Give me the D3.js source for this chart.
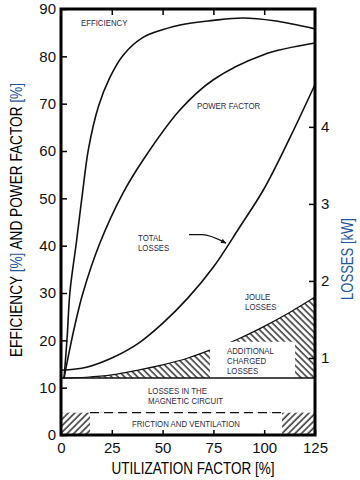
<!DOCTYPE html>
<html>
<head>
<meta charset="utf-8">
<script src="https://cdn.jsdelivr.net/npm/d3@7"></script>
<style>
  body { margin: 0; background: #fff; }
  svg { display: block; }
</style>
</head>
<body>
<div id="viz"></div>
<script>
// values
var effLoad = [1.5, 3, 4.4, 7.6, 10.4, 13.6, 18.5, 24, 30.5, 40.4, 58.6, 75, 89.6, 105, 125];
var effVal  = [12, 20.5, 30.2, 40.8, 50.5, 60.6, 69.5, 75.5, 80.2, 84.0, 86.6, 87.6, 88.1, 87.5, 85.8];

var pfLoad = [1.5, 4, 7, 10.8, 19.2, 30.5, 40.4, 58.6, 74.8, 99.4, 125];
var pfVal  = [12, 17.5, 23.5, 30, 40.6, 51.1, 58.1, 68.7, 75, 80.3, 82.8];

// losses in kW (right axis)
var lossLoad = [0, 12.5, 25, 37.5, 50, 62.5, 75, 87.5, 100, 112.5, 125];
var totalKW  = [0.84, 0.88, 1.00, 1.18, 1.45, 1.78, 2.18, 2.68, 3.20, 3.85, 4.55];
var strayTopKW = [0.74, 0.75, 0.78, 0.84, 0.91, 1.00, 1.12, 1.25, 1.41, 1.59, 1.79];
var ironKW = 0.74;      // losses in the magnetic circuit (top of band)
var frictionKW = 0.29;  // friction and ventilation

var xTicks = [0, 25, 50, 75, 100, 125];
var topTicks = [25, 50, 75, 100];
var leftTicks = [0, 10, 20, 30, 40, 50, 60, 70, 80, 90];
var rightTicks = [1, 2, 3, 4];

// white label boxes, [load from, load to, kW from, kW to]
var strayBox = [73.3, 115.2, 0.74, 1.21];
var frictionBox = [14.3, 108.8, 0, 0.29];

var arrowLoad = [63, 69.4, 81.2];
var arrowKW = [2.60, 2.60, 2.49];

var labels = [
  {t: "EFFICIENCY", x: 9.8, y: 86.4, axis: "L"},
  {t: "POWER FACTOR", x: 66.9, y: 68.9, axis: "L"},
  {t: "TOTAL", x: 37.9, y: 2.52, axis: "R"},
  {t: "LOSSES", x: 37.9, y: 2.39, axis: "R"},
  {t: "JOULE", x: 90.6, y: 1.75, axis: "R"},
  {t: "LOSSES", x: 90.6, y: 1.62, axis: "R"},
  {t: "ADDITIONAL", x: 81.7, y: 1.05, axis: "R"},
  {t: "CHARGED", x: 81.7, y: 0.92, axis: "R"},
  {t: "LOSSES", x: 81.7, y: 0.79, axis: "R"},
  {t: "LOSSES IN THE", x: 42.8, y: 0.53, axis: "R"},
  {t: "MAGNETIC CIRCUIT", x: 42.8, y: 0.40, axis: "R"},
  {t: "FRICTION AND VENTILATION", x: 34.9, y: 0.10, axis: "R"}
];

var margin = {top: 9, right: 45, bottom: 45, left: 61},
    width = 360 - margin.left - margin.right,
    height = 480 - margin.top - margin.bottom;

var x = d3.scaleLinear().domain([0, 125]).range([0, width]);
var yL = d3.scaleLinear().domain([0, 90]).range([height, 0]);
var yR = d3.scaleLinear().domain([0, 5.53]).range([height, 0]);

var svg = d3.select('#viz').append('svg')
    .attr("width", 360)
    .attr("height", 480)
    .style("font-family", "'Liberation Sans', Arial, sans-serif");

var defs = svg.append("defs");
defs.append("pattern")
    .attr("id", "hatchBack")
    .attr("patternUnits", "userSpaceOnUse")
    .attr("width", 4.6).attr("height", 4.6)
    .attr("patternTransform", "rotate(-45)")
  .append("line")
    .attr("x1", 1).attr("y1", 0).attr("x2", 1).attr("y2", 4.6)
    .attr("stroke", "#111").attr("stroke-width", 1.3);
defs.append("pattern")
    .attr("id", "hatchFwd")
    .attr("patternUnits", "userSpaceOnUse")
    .attr("width", 4.6).attr("height", 4.6)
    .attr("patternTransform", "rotate(45)")
  .append("line")
    .attr("x1", 1).attr("y1", 0).attr("x2", 1).attr("y2", 4.6)
    .attr("stroke", "#111").attr("stroke-width", 1.3);
defs.append("marker")
    .attr("id", "arrowHead")
    .attr("viewBox", "0 0 10 10")
    .attr("refX", 10).attr("refY", 5)
    .attr("markerWidth", 9).attr("markerHeight", 5)
    .attr("markerUnits", "userSpaceOnUse")
    .attr("orient", "auto")
  .append("path")
    .attr("d", "M0,0L10,5L0,10z")
    .attr("fill", "#111");

var g = svg.append("g")
    .attr("transform", "translate(" + margin.left + "," + margin.top + ")");

// friction band (hatched) with white label box
g.append("rect")
    .attr("x", x(0))
    .attr("y", yR(frictionKW))
    .attr("width", x(125) - x(0))
    .attr("height", yR(0) - yR(frictionKW))
    .attr("fill", "url(#hatchFwd)");

// additional losses band
var strayArea = d3.area()
    .x(function(d, i) { return x(lossLoad[i]); })
    .y0(yR(ironKW))
    .y1(function(d) { return yR(d); })
    .curve(d3.curveMonotoneX);
g.append("path")
    .datum(strayTopKW)
    .attr("d", strayArea)
    .attr("fill", "url(#hatchBack)");
g.append("path")
    .datum(strayTopKW)
    .attr("d", d3.line()
        .x(function(d, i) { return x(lossLoad[i]); })
        .y(function(d) { return yR(d); })
        .curve(d3.curveMonotoneX))
    .attr("fill", "none")
    .attr("stroke", "#111")
    .attr("stroke-width", 1.2);

[strayBox, frictionBox].forEach(function(b) {
  g.append("rect")
      .attr("x", x(b[0]))
      .attr("y", yR(b[3]))
      .attr("width", x(b[1]) - x(b[0]))
      .attr("height", yR(b[2]) - yR(b[3]))
      .attr("fill", "#fff");
});

// magnetic circuit line and dashed friction line
g.append("line")
    .attr("x1", x(0)).attr("x2", x(125))
    .attr("y1", yR(ironKW)).attr("y2", yR(ironKW))
    .attr("stroke", "#111").attr("stroke-width", 1.6);
g.append("line")
    .attr("x1", x(frictionBox[0])).attr("x2", x(frictionBox[1]))
    .attr("y1", yR(frictionKW)).attr("y2", yR(frictionKW))
    .attr("stroke", "#111").attr("stroke-width", 1.3)
    .attr("stroke-dasharray", "9,5");

// curves
var curve = d3.curveCatmullRom.alpha(0.5);
function drawCurve(xs, ys, scale) {
  g.append("path")
      .datum(ys)
      .attr("d", d3.line()
          .x(function(d, i) { return x(xs[i]); })
          .y(function(d) { return scale(d); })
          .curve(curve))
      .attr("fill", "none")
      .attr("stroke", "#111")
      .attr("stroke-width", 1.6);
}
drawCurve(effLoad, effVal, yL);
drawCurve(pfLoad, pfVal, yL);
drawCurve(lossLoad, totalKW, yR);

// arrow to total losses
g.append("path")
    .datum(arrowKW)
    .attr("d", d3.line()
        .x(function(d, i) { return x(arrowLoad[i]); })
        .y(function(d) { return yR(d); })
        .curve(d3.curveMonotoneX))
    .attr("fill", "none")
    .attr("stroke", "#111")
    .attr("stroke-width", 1.3)
    .attr("marker-end", "url(#arrowHead)");

// frame
g.append("rect")
    .attr("width", width)
    .attr("height", height)
    .attr("fill", "none")
    .attr("stroke", "#000")
    .attr("stroke-width", 3);

// axes
function styleAxis(sel) {
  sel.select(".domain").remove();
  sel.selectAll(".tick line").attr("stroke", "#000").attr("stroke-width", 1.5);
  sel.selectAll(".tick text")
      .attr("fill", "#111")
      .style("font-size", "15px")
      .style("font-family", "'Liberation Sans', Arial, sans-serif");
}
g.append("g")
    .call(d3.axisLeft(yL).tickValues(leftTicks).tickSize(-6).tickPadding(5))
    .call(styleAxis);
g.append("g")
    .attr("transform", "translate(0," + height + ")")
    .call(d3.axisBottom(x).tickValues(xTicks).tickSize(-5).tickPadding(7))
    .call(styleAxis);
g.append("g")
    .call(d3.axisTop(x).tickValues(topTicks).tickSize(-6).tickFormat(""))
    .call(styleAxis);
g.append("g")
    .attr("transform", "translate(" + width + ",0)")
    .call(d3.axisRight(yR).tickValues(rightTicks).tickSize(-6).tickPadding(6)
        .tickFormat(d3.format("d")))
    .call(styleAxis);

// in-plot labels
g.selectAll("text.lbl")
    .data(labels)
    .enter().append("text")
    .attr("class", "lbl")
    .attr("transform", function(d) {
      var yy = d.axis === "L" ? yL(d.y) : yR(d.y);
      return "translate(" + x(d.x) + "," + yy + ") scale(0.87,1)";
    })
    .attr("fill", "#2c2c44")
    .style("font-size", "9px")
    .text(function(d) { return d.t; });

// axis titles
var blue = "#1f56a0";
var lt = svg.append("text")
    .attr("transform", "translate(22," + (margin.top + 211) + ") rotate(-90)")
    .attr("text-anchor", "middle")
    .attr("textLength", 274)
    .attr("lengthAdjust", "spacingAndGlyphs")
    .style("font-size", "17px")
    .attr("fill", "#000");
lt.append("tspan").text("EFFICIENCY ");
lt.append("tspan").attr("fill", blue).text("[%]");
lt.append("tspan").text(" AND POWER FACTOR ");
lt.append("tspan").attr("fill", blue).text("[%]");

svg.append("text")
    .attr("transform", "translate(353,259) rotate(-90)")
    .attr("text-anchor", "middle")
    .attr("textLength", 82)
    .attr("lengthAdjust", "spacingAndGlyphs")
    .style("font-size", "16px")
    .attr("fill", blue)
    .text("LOSSES [kW]");

svg.append("text")
    .attr("x", 193)
    .attr("y", 474)
    .attr("text-anchor", "middle")
    .attr("textLength", 163)
    .attr("lengthAdjust", "spacingAndGlyphs")
    .style("font-size", "17px")
    .attr("fill", "#000")
    .text("UTILIZATION FACTOR [%]");
</script>
</body>
</html>
